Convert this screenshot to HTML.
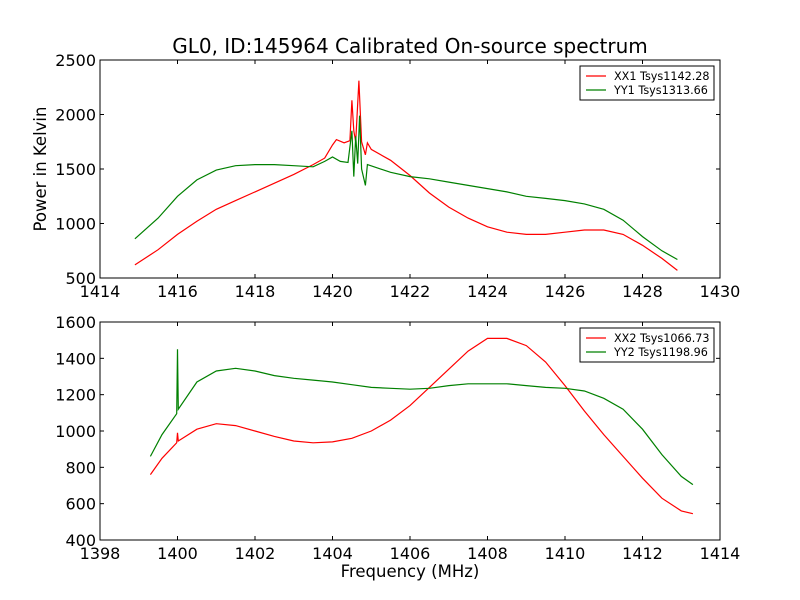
<!DOCTYPE html>
<html><head><meta charset="utf-8"><style>
html,body{margin:0;padding:0;background:#fff;}
svg{display:block;font-family:"DejaVu Sans","Liberation Sans",sans-serif;}
</style></head><body>
<svg id="chart" width="800" height="600" viewBox="0 0 800 600">
<rect x="0" y="0" width="800" height="600" fill="#fff"/>
<text x="410" y="53" font-size="20" text-anchor="middle">GL0, ID:145964 Calibrated On-source spectrum</text>
<text x="410" y="577" font-size="16.5" text-anchor="middle">Frequency (MHz)</text>
<text transform="translate(46,169) rotate(-90)" font-size="16.5" text-anchor="middle">Power in Kelvin</text>
<g id="top"></g>
<g id="bot"></g>
</svg>
<script>
const topXTicks=[1414,1416,1418,1420,1422,1424,1426,1428,1430];
const topYTicks=[500,1000,1500,2000,2500];
const botXTicks=[1398,1400,1402,1404,1406,1408,1410,1412,1414];
const botYTicks=[400,600,800,1000,1200,1400,1600];
const xx1Freq=[1414.9,1415.5,1416,1416.5,1417,1417.5,1418,1418.5,1419,1419.5,1419.8,1420,1420.1,1420.3,1420.45,1420.5,1420.55,1420.6,1420.68,1420.75,1420.85,1420.9,1421,1421.5,1422,1422.5,1423,1423.5,1424,1424.5,1425,1425.5,1426,1426.5,1427,1427.5,1428,1428.5,1428.9];
const xx1Val=[620,760,900,1020,1130,1210,1290,1370,1450,1540,1600,1720,1770,1740,1760,2130,1850,1750,2310,1750,1630,1740,1680,1580,1440,1280,1150,1050,970,920,900,900,920,940,940,900,800,680,570];
const yy1Freq=[1414.9,1415.5,1416,1416.5,1417,1417.5,1418,1418.5,1419,1419.5,1419.8,1420,1420.2,1420.4,1420.5,1420.55,1420.6,1420.65,1420.7,1420.75,1420.85,1420.9,1421.5,1422,1422.5,1423,1423.5,1424,1424.5,1425,1425.5,1426,1426.5,1427,1427.5,1428,1428.5,1428.9];
const yy1Val=[860,1050,1250,1400,1490,1530,1540,1540,1530,1520,1570,1610,1570,1560,1850,1430,1800,1550,1990,1500,1350,1540,1470,1430,1410,1380,1350,1320,1290,1250,1230,1210,1180,1130,1030,880,750,670];
const xx2Freq=[1399.3,1399.6,1399.98,1400,1400.02,1400.5,1401,1401.5,1402,1402.5,1403,1403.5,1404,1404.5,1405,1405.5,1406,1406.5,1407,1407.5,1408,1408.5,1409,1409.5,1410,1410.5,1411,1411.5,1412,1412.5,1413,1413.3];
const xx2Val=[760,850,935,990,945,1010,1040,1030,1000,970,945,935,940,960,1000,1060,1140,1240,1340,1440,1510,1510,1470,1380,1250,1110,980,860,740,630,560,545];
const yy2Freq=[1399.3,1399.6,1399.98,1400,1400.02,1400.5,1401,1401.5,1402,1402.5,1403,1403.5,1404,1404.5,1405,1405.5,1406,1406.5,1407,1407.5,1408,1408.5,1409,1409.5,1410,1410.5,1411,1411.5,1412,1412.5,1413,1413.3];
const yy2Val=[860,980,1095,1450,1120,1270,1330,1345,1330,1305,1290,1280,1270,1255,1240,1235,1230,1235,1250,1260,1260,1260,1250,1240,1235,1220,1180,1120,1010,870,750,705];
const legTop=["XX1 Tsys1142.28","YY1 Tsys1313.66"];
const legBot=["XX2 Tsys1066.73","YY2 Tsys1198.96"];
const NS="http://www.w3.org/2000/svg";
function mk(p,t,a){const e=document.createElementNS(NS,t);for(const k in a)e.setAttribute(k,a[k]);p.appendChild(e);return e;}
function panel(g,y0,y1,xmin,xmax,ymin,ymax,xt,yt,series,leg){
  const L=100,R=720;
  const sx=v=>L+(v-xmin)/(xmax-xmin)*(R-L);
  const sy=v=>y1-(v-ymin)/(ymax-ymin)*(y1-y0);
  series.forEach((s,i)=>{
    const d=s.f.map((f,j)=>(j?'L':'M')+sx(f).toFixed(1)+','+sy(s.v[j]).toFixed(1)).join('');
    const p=mk(g,'path',{d:d,fill:'none',stroke:s.c,'stroke-width':1.2});
    
    
  });
  const fr=mk(g,'rect',{x:L,y:y0,width:R-L,height:y1-y0,fill:'none',stroke:'#000','stroke-width':1});
  
  
  xt.forEach(t=>{const x=sx(t);
    mk(g,'line',{x1:x,x2:x,y1:y1,y2:y1-4,stroke:'#000'});
    mk(g,'line',{x1:x,x2:x,y1:y0,y2:y0+4,stroke:'#000'});
    const tx=mk(g,'text',{x:x,y:y1+19,'font-size':16,'text-anchor':'middle'});tx.textContent=t;
    
    
  });
  yt.forEach(t=>{const y=sy(t);
    mk(g,'line',{x1:L,x2:L+4,y1:y,y2:y,stroke:'#000'});
    mk(g,'line',{x1:R,x2:R-4,y1:y,y2:y,stroke:'#000'});
    const tx=mk(g,'text',{x:L-4,y:y+6,'font-size':16,'text-anchor':'end'});tx.textContent=t;
    
    
  });
  const lg=mk(g,'g',{});
  
  
  const ly=y0+6;
  mk(lg,'rect',{x:580,y:ly,width:134,height:34,fill:'#fff',stroke:'#000'});
  leg.forEach((t,i)=>{
    const yy=ly+10+i*14;
    mk(lg,'line',{x1:586,x2:606,y1:yy,y2:yy,stroke:series[i].c,'stroke-width':1.2});
    const tx=mk(lg,'text',{x:614,y:yy+4,'font-size':11.2});tx.textContent=t;
    
    
  });
}
panel(document.getElementById('top'),60,278,1414,1430,500,2500,topXTicks,topYTicks,
 [{f:xx1Freq,v:xx1Val,c:'#ff0000',n:'xx1-line'},{f:yy1Freq,v:yy1Val,c:'#008000',n:'yy1-line'}],legTop);
panel(document.getElementById('bot'),322,540,1398,1414,400,1600,botXTicks,botYTicks,
 [{f:xx2Freq,v:xx2Val,c:'#ff0000',n:'xx2-line'},{f:yy2Freq,v:yy2Val,c:'#008000',n:'yy2-line'}],legBot);
</script>
</body></html>
